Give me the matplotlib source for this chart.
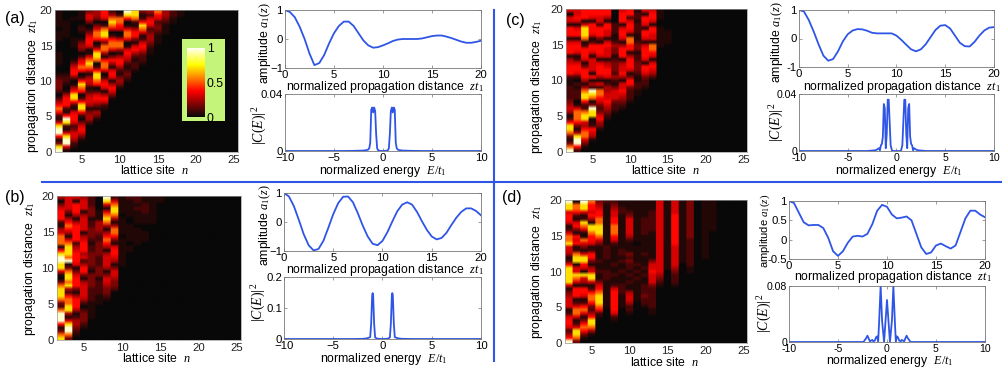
import numpy as np
import matplotlib
matplotlib.use('Agg')
import matplotlib.pyplot as plt
from matplotlib.colors import LinearSegmentedColormap

W, H = 1003, 371
plt.rcParams['font.family'] = ['Liberation Sans', 'DejaVu Sans']
plt.rcParams['mathtext.fontset'] = 'custom'
plt.rcParams['mathtext.it'] = 'Liberation Serif:italic'
plt.rcParams['mathtext.rm'] = 'Liberation Serif'
plt.rcParams['font.size'] = 8.8

# heatmap values as digits, one string per lattice site (n=2,3,...), z = 0 to 20 in steps of 0.5
digit_levels = [0, .04, .1, .17, .24, .31, .38, .52, .7, .95]

map_a = [
    "98316998512676420233321001111000111011111",
    "15998512896126664101221000000000011111000",
    "01245532566512688641036653100011100000100",
    "00013565302688620678620676520343101210111",
    "00000000244314554214541578751156653103553",
    "00000000013413565206788620788620677530344",
    "00000000000012564156520577614773688720566",
    "00000000000000013564156514630577620578742",
    "00000000000000000013431246641477510567720",
    "00000000000000000000123212456510577510689",
    "00000000000000000000000122124651366412788",
    "00000000000000000000000001223565215786213",
    "00000000000000000000000000001123443256524",
    "00000000000000000000000000000001112332567",
    "00000000000000000000000000000000001112344",
    "00000000000000000000000000000000000001122",
    "00000000000000000000000000000000000000011",
]
map_b = [
    "87316999723788873015889986177754126665304",
    "37998514887762487887319788875146764135555",
    "01234421466641366653156665426666641466615",
    "00012333202455554136642546665415555415554",
    "00000011111222233331233332212333221333222",
    "00000000001112222133322233332234441110000",
    "00000000000123345531455541467641478751589",
    "00000000000000233455314566513677414788752",
    "00000000000000000000011111111011111011111",
    "00000000000000000000000001101111100111112",
    "00000000000000000000000000011111011112122",
    "00000000000000000000000000001110011122211",
    "00000000000000000000000000000000011111111",
    "00000000000000000000000000000000000000011",
]
map_c = [
    "97313788621454322221126665416665166615505",
    "26998413677751022212025665215665166515655",
    "01357764588722688741466631566621788851666",
    "00014562118893178924161555515662156661566",
    "00000013465323567725146665156661366625566",
    "00000000012345655442156654155565155661466",
    "00000000000122355531242333213342112220000",
    "00000000000012345655146554166641566516665",
    "00000000000000122236631566641667715665266",
    "00000000000000001122112333221332112221221",
    "00000000000000000012235661566651566156615",
    "00000000000000000000024565156771556615665",
    "00000000000000000000000000000011111100111",
    "00000000000000000000000000000001111000000",
]
map_d = [
    "96425665215554315888886214558775215665889",
    "37885215775216661578551887216561365126771",
    "01367631576215661458156885135711578215889",
    "00147886423677621588541366215667881465667",
    "00000001267888765311211211113578887766543",
    "00000000001111111122211122221111111111112",
    "00000012566666652112112111112567776655432",
    "00000000001111222111211212211111111112211",
    "00000000122455411212122323111245555532111",
    "00000000000011111121212111110111111111111",
    "00000000001223222112121112111112222211111",
    "00000000112222223555655311111111222222111",
    "00000000000000001234555555555555555555555",
    "00000000000000000000011111111111111111111",
    "00000000000000001222345555556666666665555",
    "00000000000000000000000111111111111111111",
    "00000000000000000000112222222233333333333",
    "00000000000000000000000000000000000000000",
    "00000000000000000000000011111111111111111",
    "00000000000000000000000000000000111111111",
]

z_steps = [0, 0.5, 1, 1.5, 2, 2.5, 3, 3.5, 4, 4.5, 5, 5.5, 6, 6.5, 7, 7.5, 8, 8.5, 9, 9.5, 10,
           10.5, 11, 11.5, 12, 12.5, 13, 13.5, 14, 14.5, 15, 15.5, 16, 16.5, 17, 17.5, 18, 18.5, 19, 19.5, 20]

amp_a = [1, .93, .75, .42, 0, -.5, -.9, -.83, -.55, -.15, .2, .45, .6, .6, .45, .2, -.05, -.22, -.3, -.28, -.22,
         -.15, -.07, -.02, 0, 0, 0, 0, .02, .06, .1, .12, .12, .08, .03, -.03, -.09, -.13, -.13, -.1, -.06]
amp_b = [1, .88, .55, .08, -.42, -.8, -.98, -.93, -.65, -.2, .27, .65, .87, .88, .68, .3, -.13, -.5, -.75, -.8, -.65,
         -.35, .02, .37, .6, .68, .6, .35, .03, -.27, -.5, -.6, -.55, -.37, -.1, .15, .35, .47, .47, .38, .23]
amp_c = [1, .95, .65, .25, -.2, -.6, -.78, -.72, -.45, -.1, .15, .28, .33, .32, .27, .2, .18, .18, .18, .18, .1,
         -.05, -.22, -.38, -.45, -.38, -.2, .05, .3, .45, .47, .35, .1, -.15, -.27, -.28, -.12, .1, .28, .38, .4]
amp_d = [1, .95, .7, .45, .37, .38, .38, .3, .05, -.3, -.42, -.3, -.08, .08, .1, .08, .15, .4, .75, .9, .85,
         .65, .55, .57, .6, .5, .15, -.2, -.37, -.33, -.15, -.1, -.17, -.23, -.15, .2, .55, .75, .75, .65, .58]

energy_a = [-10, -4, -3, -2, -1.7, -1.5, -1.4, -1.3, -1.2, -1.1, -1, -.9, -.8, -.7, -.6, -.5, -.3, 0,
            .3, .5, .6, .7, .8, .9, 1, 1.1, 1.2, 1.3, 1.4, 1.5, 1.7, 2, 3, 4, 10]
spec_a = [0, 0, .0001, .0003, .0006, .001, .002, .006, .029, .0305, .027, .0305, .028, .012, .002, .0005, .0001, 0,
          .0001, .0005, .002, .012, .028, .0305, .027, .0305, .029, .006, .002, .001, .0006, .0003, .0001, 0, 0]
energy_b = [-10, -3, -2, -1.6, -1.4, -1.25, -1.15, -1.05, -1, -.95, -.85, -.75, -.6, -.4, 0,
            .4, .6, .75, .85, .95, 1, 1.05, 1.15, 1.25, 1.4, 1.6, 2, 3, 10]
spec_b = [0, 0, .0005, .002, .004, .006, .05, .14, .148, .14, .05, .005, .002, .0005, 0,
          .0005, .002, .005, .05, .14, .148, .14, .05, .006, .004, .002, .0005, 0, 0]
energy_c = [-10, -3, -2.2, -2, -1.8, -1.7, -1.6, -1.5, -1.4, -1.3, -1.2, -1.1, -1, -.9, -.8, -.7, -.6, -.45, 0,
            .45, .6, .7, .8, .9, 1, 1.1, 1.2, 1.3, 1.4, 1.5, 1.6, 1.7, 1.8, 2, 2.2, 3, 10]
spec_c = [0, 0, .0005, .001, .002, .0005, .004, .005, .01, .033, .03, .002, .012, .036, .036, .02, .004, 0, 0,
          0, .004, .02, .036, .036, .012, .002, .03, .033, .01, .005, .004, .0005, .002, .001, .0005, 0, 0]
energy_d = [-10, -2.4, -2.1, -2, -1.9, -1.75, -1.5, -1.4, -1.25, -1.1, -1, -.9, -.8, -.65, -.5, -.3, -.15, 0,
            .15, .3, .5, .65, .8, .9, 1, 1.1, 1.25, 1.4, 1.5, 1.75, 1.9, 2, 2.1, 2.4, 10]
spec_d = [0, 0, .006, .009, .006, .001, .003, .001, .002, .007, .008, .001, .03, .08, .03, 0, .03, .06,
          .03, 0, .03, .08, .03, .001, .008, .007, .002, .001, .003, .001, .006, .009, .006, 0, 0]

bar_ticks = [0, 0.5, 1]

heat = LinearSegmentedColormap.from_list('heat', [(0, '#080808'), (.37, '#ff0000'), (.75, '#ffff00'), (1, '#ffffff')])


def box(x0, y0, x1, y1):
    return [x0 / W, 1 - y1 / H, (x1 - x0) / W, (y1 - y0) / H]


def put(x, y, s, **kw):
    fig.text(x / W, 1 - y / H, s, ha='center', va='center', **kw)


def to_grid(columns):
    grid = np.zeros((len(z_steps), 24))
    for j, col in enumerate(columns):
        col = col.ljust(len(z_steps), '0')[:len(z_steps)]
        grid[:, j] = [digit_levels[int(c)] for c in col]
    return grid


def draw_map(rect, columns):
    ax = fig.add_axes(box(*rect))
    # repeat the sites so the smoothing only softens their edges
    grid = np.repeat(to_grid(columns), 8, axis=1)
    ax.imshow(grid, cmap=heat, vmin=0, vmax=1, origin='lower', aspect='auto',
              extent=[1.5, 25.5, 0, 20], interpolation='bilinear')
    ax.set_xticks([5, 10, 15, 20, 25])
    ax.set_yticks([0, 5, 10, 15, 20])
    ax.tick_params(length=0, pad=2, labelsize=8.2, colors='#222222')
    for s in ax.spines.values():
        s.set_color('#999999')
        s.set_linewidth(0.5)
    return ax


def style_line(ax):
    for s in ax.spines.values():
        s.set_color('#777777')
        s.set_linewidth(0.6)
    ax.tick_params(direction='in', length=2, width=0.5, color='#777777', pad=1.5, labelsize=8.2)
    ax.xaxis.set_ticks_position('both')
    ax.yaxis.set_ticks_position('both')


def draw_amp(rect, values, yticks=(-1, 0, 1), ylabels=('\u22121', '0', '1'), ylim=(-1, 1)):
    ax = fig.add_axes(box(*rect))
    ax.plot(z_steps, values, color='#2f55e6', lw=1.3)
    ax.set_xlim(0, 20)
    ax.set_ylim(*ylim)
    ax.set_xticks([0, 5, 10, 15, 20])
    ax.set_yticks(list(yticks))
    ax.set_yticklabels(list(ylabels))
    style_line(ax)
    return ax


def draw_spec(rect, energy, spec, ytop, yticks, ylabels, minus='\u2212', fs=8.2):
    ax = fig.add_axes(box(*rect))
    ax.plot(energy, spec, color='#2f55e6', lw=1.3)
    ax.set_xlim(-10, 10)
    ax.set_ylim(0, ytop)
    ax.set_xticks([-10, -5, 0, 5, 10])
    ax.set_xticklabels([minus + '10', minus + '5', '0', '5', '10'])
    ax.set_yticks(yticks)
    ax.set_yticklabels(ylabels)
    style_line(ax)
    ax.tick_params(labelsize=fs)
    return ax


fig = plt.figure(figsize=(W / 100, H / 100), dpi=100)

site_label = 'lattice site  $n$'
dist_label = 'propagation distance  $zt_1$'
amp_xlabel = 'normalized propagation distance  $zt_1$'
amp_ylabel = 'amplitude $a_1(z)$'
spec_xlabel = 'normalized energy  $E/t_1$'
spec_ylabel = '$|C(E)|^{\\,2}$'

# panel (a)
draw_map((55, 10, 238, 152), map_a)
draw_amp((285, 10, 481, 68), amp_a)
draw_spec((285, 94, 481, 151), energy_a, spec_a, 0.04, [0, 0.04], ['0', '0.04'])
put(154, 171, site_label)
put(33, 86, dist_label, rotation=90)
put(385, 87, amp_xlabel)
put(265, 43, amp_ylabel, rotation=90)
put(383, 171, spec_xlabel)
put(260, 125, spec_ylabel, rotation=90, fontsize=10)

# panel (b)
draw_map((57, 196, 241, 340), map_b)
draw_amp((284, 193, 481, 251), amp_b)
draw_spec((284, 277, 481, 339), energy_b, spec_b, 0.2, [0, 0.1, 0.2], ['0', '0.1', '0.2'])
put(156, 359, site_label)
put(30, 269, dist_label, rotation=90)
put(385, 270, amp_xlabel)
put(265, 225, amp_ylabel, rotation=90)
put(384, 359, spec_xlabel)
put(259, 302, spec_ylabel, rotation=90, fontsize=10)

# panel (c)
draw_map((566, 9, 747, 152), map_c)
draw_amp((799, 10, 994, 67), amp_c, ylabels=('-1', '0', '1'))
draw_spec((799, 94, 994, 151), energy_c, spec_c, 0.04, [0, 0.04], ['0', '0.04'], minus='-', fs=7.6)
put(665, 171, site_label)
put(537, 87, dist_label, rotation=90)
put(902, 87, amp_xlabel)
put(777, 42, amp_ylabel, rotation=90)
put(899, 171, spec_xlabel)
put(777, 122, spec_ylabel, rotation=90, fontsize=10)

# panel (d)
draw_map((565, 200, 747, 343), map_d)
draw_amp((789, 201, 985, 259), amp_d, yticks=(-.5, 0, .5, 1), ylabels=('-0.5', '0', '0.5', '1'), ylim=(-.5, 1))
draw_spec((789, 286, 985, 342), energy_d, spec_d, 0.08, [0, 0.08], ['0', '0.08'], minus='-', fs=7.6)
put(664, 362, site_label)
put(537, 272, dist_label, rotation=90)
put(893, 277, amp_xlabel)
put(765, 231, amp_ylabel, rotation=90, fontsize=8)
put(890, 361, spec_xlabel)
put(765, 313, spec_ylabel, rotation=90, fontsize=10)

# colour key inside panel (a)
fig.patches.append(plt.Rectangle((182 / W, 1 - 121 / H), 43 / W, 82 / H, transform=fig.transFigure,
                                 facecolor='#c4f57a', edgecolor='none', zorder=5))
cax = fig.add_axes(box(187, 48, 204, 117), zorder=6)
cax.imshow(np.linspace(0, 1, 128).reshape(-1, 1), cmap=heat, origin='lower', aspect='auto', extent=[0, 1, 0, 1])
cax.set_xticks([])
cax.yaxis.tick_right()
cax.set_yticks(bar_ticks)
cax.set_yticklabels(['0', '0.5', '1'])
cax.tick_params(length=0, pad=2)
for s in cax.spines.values():
    s.set_visible(False)

# panel letters
for label, x, y in [('(a)', 5, 19), ('(b)', 5, 197), ('(c)', 506, 20), ('(d)', 502, 197)]:
    fig.text(x / W, 1 - y / H, label, fontsize=11.5, va='center', ha='left')

# blue dividers
fig.add_artist(plt.Line2D([42 / W, 1], [1 - 182 / H, 1 - 182 / H], color='#2f55e6', lw=1.5))
fig.add_artist(plt.Line2D([494 / W, 494 / W], [1 - 10 / H, 1 - 361 / H], color='#2f55e6', lw=1.5))

fig.savefig('out.png', dpi=100)
